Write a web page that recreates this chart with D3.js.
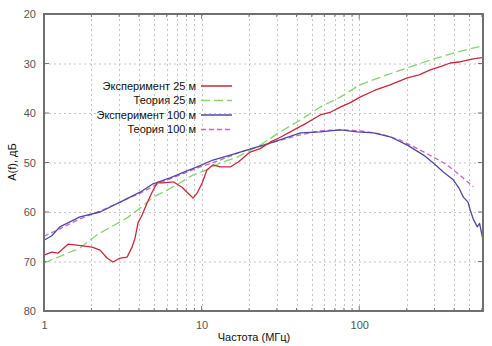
<!DOCTYPE html>
<html>
<head>
<meta charset="utf-8">
<script src="https://cdn.jsdelivr.net/npm/d3@7"></script>
<style>
  html, body { margin: 0; padding: 0; background: #fff; }
  svg { display: block; font-family: "Liberation Sans", Arial, sans-serif; }
</style>
</head>
<body>
<svg id="chart" width="492" height="346"></svg>
<script>
// Frequency (MHz) and attenuation (dB) for each series
const freqExp25 = [1, 1.12, 1.23, 1.42, 1.62, 2.02, 2.27, 2.51, 2.74, 3.04, 3.37, 3.62, 3.78, 3.95, 4.19, 4.51, 4.85, 5.22, 5.7, 6.59, 7.52, 8.21, 8.83, 9.36, 10.1, 10.8, 11.8, 13.1, 15.2, 17.1, 20.3, 23.5, 27.2, 31.6, 36.5, 45.4, 56.5, 66, 75.7, 88, 101, 126, 157, 202, 240, 282, 330, 378, 430, 485, 540, 600];
const valExp25  = [68.7, 68.1, 68.3, 66.5, 66.7, 67.1, 67.7, 69.3, 70.1, 69.3, 69.1, 67.1, 65.3, 62.2, 60.6, 58.2, 56.0, 54.1, 54.1, 53.9, 55.0, 56.2, 57.2, 56.2, 54.1, 51.5, 50.5, 50.9, 50.9, 49.9, 47.9, 47.2, 45.9, 44.9, 43.8, 42.2, 40.4, 39.8, 38.8, 37.9, 36.8, 35.4, 34.3, 32.9, 32.3, 31.3, 30.6, 29.9, 29.7, 29.3, 29.0, 28.8];

const freqTh25 = [1, 1.32, 1.69, 2.17, 3.36, 4.07, 4.92, 6.03, 7.29, 8.83, 10.8, 13.1, 16.8, 23.5, 31.6, 42.4, 56.5, 75.7, 101, 150, 210, 282, 394, 526, 600];
const valTh25  = [70.3, 68.7, 67.3, 64.6, 61.2, 59.2, 57.0, 55.6, 54.1, 52.5, 51.5, 50.1, 48.9, 46.5, 43.8, 41.4, 38.8, 36.8, 34.3, 32.3, 30.7, 29.3, 27.9, 26.9, 26.5];

const freqExp100 = [1, 1.12, 1.26, 1.69, 2.27, 3.04, 4.07, 4.92, 6.31, 7.52, 9.36, 11.8, 15.2, 20.3, 27.2, 42.4, 56.5, 75.7, 97, 123, 157, 202, 256, 295, 342, 395, 430, 458, 490, 506, 530, 561, 580, 605];
const valExp100  = [65.7, 64.8, 63.0, 61.0, 60.0, 58.0, 56.0, 54.3, 53.1, 52.1, 50.9, 49.5, 48.5, 47.3, 46.1, 44.0, 43.8, 43.4, 43.8, 44.0, 44.8, 46.5, 48.5, 50.1, 51.9, 53.5, 55.2, 57.0, 58.0, 59.6, 61.5, 63.0, 62.3, 65.1];

const freqTh100 = [1, 1.26, 1.69, 2.27, 3.04, 4.07, 5.45, 7.29, 9.79, 13.1, 17.6, 23.5, 31.6, 42.4, 56.5, 75.7, 101, 136, 183, 244, 303, 361, 433, 530];
const valTh100  = [64.9, 63.4, 61.4, 59.8, 58.0, 56.2, 54.1, 52.5, 50.9, 49.5, 47.9, 46.7, 45.5, 44.4, 43.6, 43.4, 43.6, 44.2, 45.5, 47.5, 49.1, 50.5, 52.5, 54.9];

const yTicks = [20, 30, 40, 50, 60, 70, 80];
const xTicks = [1, 10, 100];
const xMinor = [2, 3, 4, 5, 6, 7, 8, 9, 20, 30, 40, 50, 60, 70, 80, 90, 200, 300, 400, 500, 600];

const seriesNames = ["Эксперимент 25 м", "Теория 25 м", "Эксперимент 100 м", "Теория 100 м"];
const seriesColors = ["#c8283c", "#86d46e", "#4f4aa0", "#c468c4"];
const seriesDash = [null, "9,4", null, "5,3"];

const svg = d3.select("#chart");
const x = d3.scaleLog().domain([1, 610]).range([44, 483]);
const y = d3.scaleLinear().domain([20, 80]).range([14, 311]);

// grid
const grid = svg.append("g").attr("stroke", "#c4c4c4").attr("stroke-width", 1).attr("stroke-dasharray", "2,3");
grid.selectAll("line.h").data(yTicks.slice(1, -1)).join("line")
  .attr("x1", x(1)).attr("x2", x(610)).attr("y1", d => y(d) + 0.5).attr("y2", d => y(d) + 0.5);
grid.selectAll("line.v").data(xTicks.slice(1).concat(xMinor)).join("line")
  .attr("x1", d => Math.round(x(d)) + 0.5).attr("x2", d => Math.round(x(d)) + 0.5)
  .attr("y1", y(20)).attr("y2", y(80));

// axes
const xAxis = d3.axisBottom(x).tickValues(xTicks).tickFormat(d3.format("d")).tickSize(0).tickPadding(10);
const gx = svg.append("g").attr("transform", `translate(0,${y(80)})`).call(xAxis);
gx.select(".domain").remove();
gx.selectAll("text").attr("font-size", 11).attr("fill", "#555");

const yAxis = d3.axisLeft(y).tickValues(yTicks).tickSize(0).tickPadding(8);
const gy = svg.append("g").attr("transform", `translate(${x(1)},0)`).call(yAxis);
gy.select(".domain").remove();
gy.selectAll("text").attr("font-size", 11).attr("fill", "#555");

// tick marks
const ticks = svg.append("g").attr("stroke", "#777").attr("stroke-width", 1);
ticks.selectAll("line.yl").data(yTicks).join("line")
  .attr("x1", x(1)).attr("x2", x(1) + 5).attr("y1", d => y(d)).attr("y2", d => y(d));
ticks.selectAll("line.yr").data(yTicks).join("line")
  .attr("x1", x(610) - 5).attr("x2", x(610)).attr("y1", d => y(d)).attr("y2", d => y(d));
ticks.selectAll("line.xb").data(xTicks.concat(xMinor)).join("line")
  .attr("x1", d => x(d)).attr("x2", d => x(d)).attr("y1", y(80)).attr("y2", d => y(80) - (xTicks.includes(d) ? 5 : 3));
ticks.selectAll("line.xt").data(xTicks.concat(xMinor)).join("line")
  .attr("x1", d => x(d)).attr("x2", d => x(d)).attr("y1", y(20)).attr("y2", d => y(20) + (xTicks.includes(d) ? 5 : 3));

// series
const line = d3.line().x(d => x(d[0])).y(d => y(d[1]));
const series = [
  d3.zip(freqExp25, valExp25),
  d3.zip(freqTh25, valTh25),
  d3.zip(freqExp100, valExp100),
  d3.zip(freqTh100, valTh100)
];
const order = [1, 3, 2, 0];
order.forEach(i => {
  svg.append("path").datum(series[i])
    .attr("fill", "none").attr("stroke", seriesColors[i]).attr("stroke-width", 1.3)
    .attr("stroke-dasharray", seriesDash[i]).attr("stroke-linejoin", "round")
    .attr("d", line);
});

// border
svg.append("rect").attr("x", x(1)).attr("y", y(20)).attr("width", x(610) - x(1)).attr("height", y(80) - y(20))
  .attr("fill", "none").attr("stroke", "#707070").attr("stroke-width", 2);

// legend
const lg = svg.append("g");
seriesNames.forEach((name, i) => {
  const yy = 86 + i * 14.5;
  lg.append("text").attr("x", 196).attr("y", yy).attr("dy", "0.35em").attr("text-anchor", "end")
    .attr("font-size", 11).attr("fill", "#111").text(name);
  lg.append("line").attr("x1", 201).attr("x2", 232).attr("y1", yy).attr("y2", yy)
    .attr("stroke", seriesColors[i]).attr("stroke-width", 1.5).attr("stroke-dasharray", seriesDash[i]);
});

// axis titles
svg.append("text").attr("x", 254).attr("y", 337).attr("dy", "0.35em").attr("text-anchor", "middle")
  .attr("font-size", 11).attr("fill", "#111").text("Частота (МГц)");
svg.append("text").attr("transform", "translate(12,162) rotate(-90)").attr("dy", "0.35em").attr("text-anchor", "middle")
  .attr("font-size", 11).attr("fill", "#111").text("A(f), дБ");
</script>
</body>
</html>
